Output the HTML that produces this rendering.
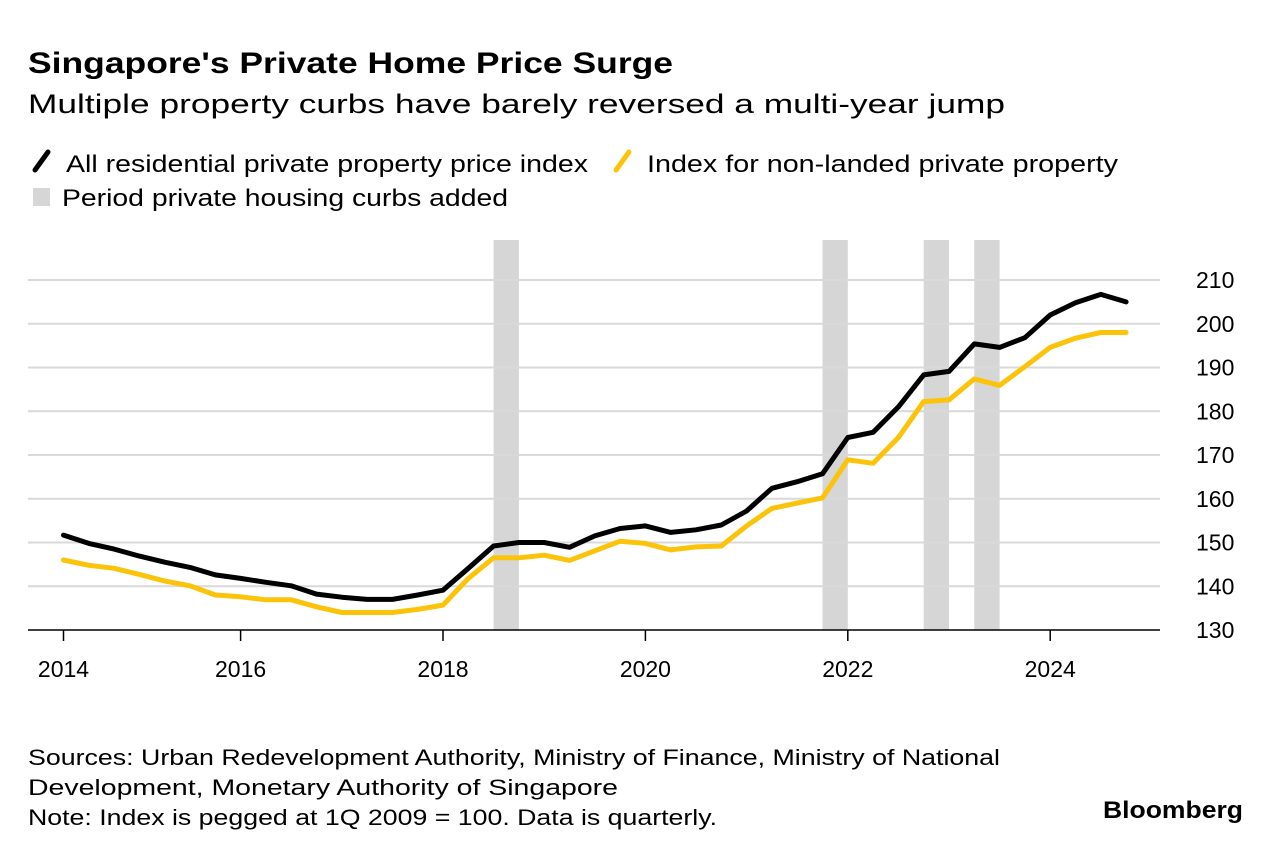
<!DOCTYPE html>
<html><head><meta charset="utf-8"><style>
html,body{margin:0;padding:0;background:#fff;}
svg{display:block;font-family:"Liberation Sans",sans-serif;}
</style></head><body>
<svg id="chart" width="1281" height="854" viewBox="0 0 1281 854" xmlns="http://www.w3.org/2000/svg">
<text x="28" y="73" font-size="30" font-weight="bold" textLength="645" lengthAdjust="spacingAndGlyphs">Singapore's Private Home Price Surge</text>
<text x="28" y="113" font-size="27" textLength="977" lengthAdjust="spacingAndGlyphs">Multiple property curbs have barely reversed a multi-year jump</text>
<g>
<line x1="35" y1="170" x2="48" y2="152" stroke="#000" stroke-width="5" stroke-linecap="round"/>
<text x="66" y="172" font-size="24" textLength="522" lengthAdjust="spacingAndGlyphs">All residential private property price index</text>
<line x1="616" y1="170" x2="629" y2="152" stroke="#fcc30b" stroke-width="5" stroke-linecap="round"/>
<text x="647" y="172" font-size="24" textLength="471" lengthAdjust="spacingAndGlyphs">Index for non-landed private property</text>
<rect x="33" y="188" width="17" height="18" fill="#d6d6d6"/>
<text x="62" y="206" font-size="24" textLength="446" lengthAdjust="spacingAndGlyphs">Period private housing curbs added</text>
</g>
<g id="plot"></g>
<text x="28" y="765" font-size="22" textLength="972" lengthAdjust="spacingAndGlyphs">Sources: Urban Redevelopment Authority, Ministry of Finance, Ministry of National</text>
<text x="28" y="795" font-size="22" textLength="590" lengthAdjust="spacingAndGlyphs">Development, Monetary Authority of Singapore</text>
<text x="28" y="825" font-size="22" textLength="689" lengthAdjust="spacingAndGlyphs">Note: Index is pegged at 1Q 2009 = 100. Data is quarterly.</text>
<text x="1103" y="818" font-size="24" font-weight="bold" textLength="140" lengthAdjust="spacingAndGlyphs">Bloomberg</text>
</svg>
<script>
const allIndex = [151.7,149.8,148.5,146.9,145.5,144.3,142.6,141.8,140.9,140.1,138.2,137.5,137.0,137.0,138.0,139.1,144.1,149.2,150.0,150.0,148.9,151.5,153.2,153.8,152.3,152.9,154.0,157.2,162.4,163.9,165.7,174.0,175.2,181.0,188.3,189.1,195.4,194.6,196.8,202.0,204.8,206.7,205.0];
const nonLanded = [146.0,144.8,144.1,142.7,141.2,140.1,138.0,137.6,136.9,136.9,135.3,134.0,134.0,134.0,134.7,135.7,141.8,146.5,146.5,147.1,145.9,148.1,150.3,149.8,148.3,149.0,149.2,153.8,157.8,159.0,160.2,168.9,168.1,174.0,182.2,182.6,187.4,185.9,190.2,194.6,196.7,198.0,198.0];
const startYear = 2014.25;
const curbStarts = [2018.5, 2021.75, 2022.75, 2023.25];
const curbEnds = [2018.75, 2022.0, 2023.0, 2023.5];
const yTicks = [130,140,150,160,170,180,190,200,210];
const xTickDates = [2014.25,2016,2018,2020,2022,2024];
const xTickLabels = ['2014','2016','2018','2020','2022','2024'];

const NS = 'http://www.w3.org/2000/svg';
const plot = document.getElementById('plot');
const xS = yr => 443 + (yr - 2018) * 101.2;
const yS = v => 630 - (v - 130) * 4.375;
function mk(tag, attrs){const e=document.createElementNS(NS,tag);for(const k in attrs)e.setAttribute(k,attrs[k]);plot.appendChild(e);return e;}

curbStarts.forEach((s,i)=>{
  const r = mk('rect',{x:xS(s),y:240,width:xS(curbEnds[i])-xS(s),height:390,fill:'#d6d6d6'});
  
  
});
yTicks.forEach(t=>{
  if(t>130){
    const l = mk('line',{x1:28,x2:1160,y1:yS(t),y2:yS(t),stroke:'#d9d9d9','stroke-width':2});
    
    
  }
  const tx = mk('text',{x:1196,y:yS(t)+8,'font-size':23});
  tx.textContent = t;
  
  
});
const ax = mk('line',{x1:28,x2:1160,y1:630,y2:630,stroke:'#000','stroke-width':1.5});


xTickDates.forEach((t,i)=>{
  const tk = mk('line',{x1:xS(t),x2:xS(t),y1:630,y2:641,stroke:'#000','stroke-width':1.5});
  
  
  const tx = mk('text',{x:xS(t),y:677,'font-size':23,'text-anchor':'middle'});
  tx.textContent = xTickLabels[i];
  
  
});
function line(data,color,name){
  const pts = data.map((v,i)=>xS(startYear+i/4).toFixed(1)+','+yS(v).toFixed(1)).join(' ');
  const p = mk('polyline',{points:pts,fill:'none',stroke:color,'stroke-width':5,'stroke-linejoin':'round','stroke-linecap':'round'});
  
  
}
line(nonLanded,'#fcc30b','non-landed-index-line');
line(allIndex,'#000','all-residential-index-line');
</script>
</body></html>
